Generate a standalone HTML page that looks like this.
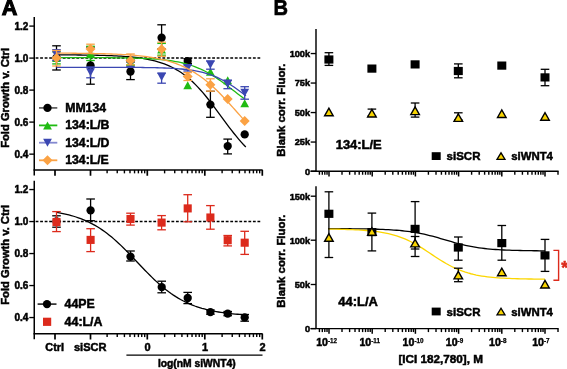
<!DOCTYPE html>
<html><head><meta charset="utf-8"><style>
html,body{margin:0;padding:0;background:#fff;width:567px;height:369px;overflow:hidden;}
svg{display:block;font-family:"Liberation Sans",sans-serif;}
svg{will-change:transform;}
</style></head><body>
<svg width="567" height="369" viewBox="0 0 567 369">
<rect width="567" height="369" fill="#fff"/>
<text x="1.75" y="14.5" font-size="21.6" font-family="Liberation Sans, sans-serif" font-weight="bold" fill="#000" stroke="#000" stroke-width="1.1" text-anchor="start" >A</text>
<text x="0" y="0" font-size="21.4" font-family="Liberation Sans, sans-serif" font-weight="bold" fill="#000" stroke="#000" stroke-width="0.6" text-anchor="start" transform="translate(273.6,14.6) scale(0.94,1)">B</text>
<line x1="34.25" y1="17" x2="34.25" y2="175.54999999999998" stroke="#000" stroke-width="1.5" />
<line x1="29.3" y1="26.1" x2="34.25" y2="26.1" stroke="#000" stroke-width="1.35" />
<text x="28.4" y="29.700000000000003" font-size="10" font-family="Liberation Sans, sans-serif" font-weight="bold" fill="#000" stroke="#000" stroke-width="0.5" text-anchor="end" >1.2</text>
<line x1="29.3" y1="58.1" x2="34.25" y2="58.1" stroke="#000" stroke-width="1.35" />
<text x="28.4" y="61.7" font-size="10" font-family="Liberation Sans, sans-serif" font-weight="bold" fill="#000" stroke="#000" stroke-width="0.5" text-anchor="end" >1.0</text>
<line x1="29.3" y1="90.1" x2="34.25" y2="90.1" stroke="#000" stroke-width="1.35" />
<text x="28.4" y="93.69999999999999" font-size="10" font-family="Liberation Sans, sans-serif" font-weight="bold" fill="#000" stroke="#000" stroke-width="0.5" text-anchor="end" >0.8</text>
<line x1="29.3" y1="122.1" x2="34.25" y2="122.1" stroke="#000" stroke-width="1.35" />
<text x="28.4" y="125.69999999999999" font-size="10" font-family="Liberation Sans, sans-serif" font-weight="bold" fill="#000" stroke="#000" stroke-width="0.5" text-anchor="end" >0.6</text>
<line x1="29.3" y1="154.15" x2="34.25" y2="154.15" stroke="#000" stroke-width="1.35" />
<text x="28.4" y="157.75" font-size="10" font-family="Liberation Sans, sans-serif" font-weight="bold" fill="#000" stroke="#000" stroke-width="0.5" text-anchor="end" >0.4</text>
<line x1="33.5" y1="169.95" x2="262.6" y2="169.95" stroke="#000" stroke-width="1.5" />
<line x1="55" y1="169.95" x2="55" y2="175.75" stroke="#000" stroke-width="1.7" />
<line x1="90.5" y1="169.95" x2="90.5" y2="175.75" stroke="#000" stroke-width="1.7" />
<line x1="147.3" y1="169.95" x2="147.3" y2="175.75" stroke="#000" stroke-width="1.7" />
<line x1="204.8" y1="169.95" x2="204.8" y2="175.75" stroke="#000" stroke-width="1.7" />
<line x1="262.3" y1="169.95" x2="262.3" y2="175.75" stroke="#000" stroke-width="1.7" />
<line x1="107.10922475067893" y1="169.95" x2="107.10922475067893" y2="173.35" stroke="#000" stroke-width="1.4" />
<line x1="117.2344721463806" y1="169.95" x2="117.2344721463806" y2="173.35" stroke="#000" stroke-width="1.4" />
<line x1="124.41844950135786" y1="169.95" x2="124.41844950135786" y2="173.35" stroke="#000" stroke-width="1.4" />
<line x1="129.9907752493211" y1="169.95" x2="129.9907752493211" y2="173.35" stroke="#000" stroke-width="1.4" />
<line x1="134.54369689705953" y1="169.95" x2="134.54369689705953" y2="173.35" stroke="#000" stroke-width="1.4" />
<line x1="138.39313730081977" y1="169.95" x2="138.39313730081977" y2="173.35" stroke="#000" stroke-width="1.4" />
<line x1="141.72767425203676" y1="169.95" x2="141.72767425203676" y2="173.35" stroke="#000" stroke-width="1.4" />
<line x1="144.66894429276118" y1="169.95" x2="144.66894429276118" y2="173.35" stroke="#000" stroke-width="1.4" />
<line x1="164.60922475067892" y1="169.95" x2="164.60922475067892" y2="173.35" stroke="#000" stroke-width="1.4" />
<line x1="174.7344721463806" y1="169.95" x2="174.7344721463806" y2="173.35" stroke="#000" stroke-width="1.4" />
<line x1="181.91844950135786" y1="169.95" x2="181.91844950135786" y2="173.35" stroke="#000" stroke-width="1.4" />
<line x1="187.4907752493211" y1="169.95" x2="187.4907752493211" y2="173.35" stroke="#000" stroke-width="1.4" />
<line x1="192.04369689705953" y1="169.95" x2="192.04369689705953" y2="173.35" stroke="#000" stroke-width="1.4" />
<line x1="195.89313730081977" y1="169.95" x2="195.89313730081977" y2="173.35" stroke="#000" stroke-width="1.4" />
<line x1="199.22767425203676" y1="169.95" x2="199.22767425203676" y2="173.35" stroke="#000" stroke-width="1.4" />
<line x1="202.16894429276118" y1="169.95" x2="202.16894429276118" y2="173.35" stroke="#000" stroke-width="1.4" />
<line x1="222.10922475067895" y1="169.95" x2="222.10922475067895" y2="173.35" stroke="#000" stroke-width="1.4" />
<line x1="232.2344721463806" y1="169.95" x2="232.2344721463806" y2="173.35" stroke="#000" stroke-width="1.4" />
<line x1="239.41844950135786" y1="169.95" x2="239.41844950135786" y2="173.35" stroke="#000" stroke-width="1.4" />
<line x1="244.99077524932108" y1="169.95" x2="244.99077524932108" y2="173.35" stroke="#000" stroke-width="1.4" />
<line x1="249.54369689705953" y1="169.95" x2="249.54369689705953" y2="173.35" stroke="#000" stroke-width="1.4" />
<line x1="253.39313730081977" y1="169.95" x2="253.39313730081977" y2="173.35" stroke="#000" stroke-width="1.4" />
<line x1="256.72767425203676" y1="169.95" x2="256.72767425203676" y2="173.35" stroke="#000" stroke-width="1.4" />
<line x1="259.6689442927612" y1="169.95" x2="259.6689442927612" y2="173.35" stroke="#000" stroke-width="1.4" />
<line x1="34.25" y1="58.1" x2="260.4" y2="58.1" stroke="#000" stroke-width="1.5" stroke-dasharray="2.8 1.727" stroke-dashoffset="-1.373"/>
<line x1="34.25" y1="180.8" x2="34.25" y2="339.3" stroke="#000" stroke-width="1.5" />
<line x1="29.3" y1="189.55" x2="34.25" y2="189.55" stroke="#000" stroke-width="1.35" />
<text x="28.4" y="193.15" font-size="10" font-family="Liberation Sans, sans-serif" font-weight="bold" fill="#000" stroke="#000" stroke-width="0.5" text-anchor="end" >1.2</text>
<line x1="29.3" y1="221.55" x2="34.25" y2="221.55" stroke="#000" stroke-width="1.35" />
<text x="28.4" y="225.15" font-size="10" font-family="Liberation Sans, sans-serif" font-weight="bold" fill="#000" stroke="#000" stroke-width="0.5" text-anchor="end" >1.0</text>
<line x1="29.3" y1="253.55" x2="34.25" y2="253.55" stroke="#000" stroke-width="1.35" />
<text x="28.4" y="257.15000000000003" font-size="10" font-family="Liberation Sans, sans-serif" font-weight="bold" fill="#000" stroke="#000" stroke-width="0.5" text-anchor="end" >0.8</text>
<line x1="29.3" y1="285.55" x2="34.25" y2="285.55" stroke="#000" stroke-width="1.35" />
<text x="28.4" y="289.15000000000003" font-size="10" font-family="Liberation Sans, sans-serif" font-weight="bold" fill="#000" stroke="#000" stroke-width="0.5" text-anchor="end" >0.6</text>
<line x1="29.3" y1="317.55" x2="34.25" y2="317.55" stroke="#000" stroke-width="1.35" />
<text x="28.4" y="321.15000000000003" font-size="10" font-family="Liberation Sans, sans-serif" font-weight="bold" fill="#000" stroke="#000" stroke-width="0.5" text-anchor="end" >0.4</text>
<line x1="33.5" y1="333.7" x2="262.6" y2="333.7" stroke="#000" stroke-width="1.5" />
<line x1="55" y1="333.7" x2="55" y2="339.5" stroke="#000" stroke-width="1.7" />
<line x1="90.5" y1="333.7" x2="90.5" y2="339.5" stroke="#000" stroke-width="1.7" />
<line x1="147.3" y1="333.7" x2="147.3" y2="339.5" stroke="#000" stroke-width="1.7" />
<line x1="204.8" y1="333.7" x2="204.8" y2="339.5" stroke="#000" stroke-width="1.7" />
<line x1="262.3" y1="333.7" x2="262.3" y2="339.5" stroke="#000" stroke-width="1.7" />
<line x1="107.10922475067893" y1="333.7" x2="107.10922475067893" y2="337.09999999999997" stroke="#000" stroke-width="1.4" />
<line x1="117.2344721463806" y1="333.7" x2="117.2344721463806" y2="337.09999999999997" stroke="#000" stroke-width="1.4" />
<line x1="124.41844950135786" y1="333.7" x2="124.41844950135786" y2="337.09999999999997" stroke="#000" stroke-width="1.4" />
<line x1="129.9907752493211" y1="333.7" x2="129.9907752493211" y2="337.09999999999997" stroke="#000" stroke-width="1.4" />
<line x1="134.54369689705953" y1="333.7" x2="134.54369689705953" y2="337.09999999999997" stroke="#000" stroke-width="1.4" />
<line x1="138.39313730081977" y1="333.7" x2="138.39313730081977" y2="337.09999999999997" stroke="#000" stroke-width="1.4" />
<line x1="141.72767425203676" y1="333.7" x2="141.72767425203676" y2="337.09999999999997" stroke="#000" stroke-width="1.4" />
<line x1="144.66894429276118" y1="333.7" x2="144.66894429276118" y2="337.09999999999997" stroke="#000" stroke-width="1.4" />
<line x1="164.60922475067892" y1="333.7" x2="164.60922475067892" y2="337.09999999999997" stroke="#000" stroke-width="1.4" />
<line x1="174.7344721463806" y1="333.7" x2="174.7344721463806" y2="337.09999999999997" stroke="#000" stroke-width="1.4" />
<line x1="181.91844950135786" y1="333.7" x2="181.91844950135786" y2="337.09999999999997" stroke="#000" stroke-width="1.4" />
<line x1="187.4907752493211" y1="333.7" x2="187.4907752493211" y2="337.09999999999997" stroke="#000" stroke-width="1.4" />
<line x1="192.04369689705953" y1="333.7" x2="192.04369689705953" y2="337.09999999999997" stroke="#000" stroke-width="1.4" />
<line x1="195.89313730081977" y1="333.7" x2="195.89313730081977" y2="337.09999999999997" stroke="#000" stroke-width="1.4" />
<line x1="199.22767425203676" y1="333.7" x2="199.22767425203676" y2="337.09999999999997" stroke="#000" stroke-width="1.4" />
<line x1="202.16894429276118" y1="333.7" x2="202.16894429276118" y2="337.09999999999997" stroke="#000" stroke-width="1.4" />
<line x1="222.10922475067895" y1="333.7" x2="222.10922475067895" y2="337.09999999999997" stroke="#000" stroke-width="1.4" />
<line x1="232.2344721463806" y1="333.7" x2="232.2344721463806" y2="337.09999999999997" stroke="#000" stroke-width="1.4" />
<line x1="239.41844950135786" y1="333.7" x2="239.41844950135786" y2="337.09999999999997" stroke="#000" stroke-width="1.4" />
<line x1="244.99077524932108" y1="333.7" x2="244.99077524932108" y2="337.09999999999997" stroke="#000" stroke-width="1.4" />
<line x1="249.54369689705953" y1="333.7" x2="249.54369689705953" y2="337.09999999999997" stroke="#000" stroke-width="1.4" />
<line x1="253.39313730081977" y1="333.7" x2="253.39313730081977" y2="337.09999999999997" stroke="#000" stroke-width="1.4" />
<line x1="256.72767425203676" y1="333.7" x2="256.72767425203676" y2="337.09999999999997" stroke="#000" stroke-width="1.4" />
<line x1="259.6689442927612" y1="333.7" x2="259.6689442927612" y2="337.09999999999997" stroke="#000" stroke-width="1.4" />
<line x1="34.25" y1="221.55" x2="260.4" y2="221.55" stroke="#000" stroke-width="1.5" stroke-dasharray="2.8 1.727" stroke-dashoffset="-1.373"/>
<text x="0" y="0" font-size="11.2" font-family="Liberation Sans, sans-serif" font-weight="bold" fill="#000" stroke="#000" stroke-width="0.5" text-anchor="middle" transform="translate(8.7,97.9) rotate(-90)">Fold Growth v. Ctrl</text>
<text x="0" y="0" font-size="11.2" font-family="Liberation Sans, sans-serif" font-weight="bold" fill="#000" stroke="#000" stroke-width="0.5" text-anchor="middle" transform="translate(8.7,254.8) rotate(-90)">Fold Growth v. Ctrl</text>
<path d="M56.50,54.85 L58.90,54.86 L61.29,54.87 L63.69,54.88 L66.08,54.90 L68.48,54.91 L70.88,54.93 L73.27,54.94 L75.67,54.96 L78.07,54.98 L80.46,55.01 L82.86,55.03 L85.25,55.06 L87.65,55.10 L90.05,55.13 L92.44,55.17 L94.84,55.22 L97.24,55.27 L99.63,55.33 L102.03,55.39 L104.42,55.46 L106.82,55.53 L109.22,55.62 L111.61,55.71 L114.01,55.82 L116.41,55.93 L118.80,56.06 L121.20,56.21 L123.59,56.37 L125.99,56.54 L128.39,56.74 L130.78,56.96 L133.18,57.20 L135.57,57.47 L137.97,57.76 L140.37,58.09 L142.76,58.45 L145.16,58.85 L147.56,59.29 L149.95,59.78 L152.35,60.31 L154.74,60.91 L157.14,61.56 L159.54,62.27 L161.93,63.06 L164.33,63.92 L166.73,64.86 L169.12,65.90 L171.52,67.02 L173.91,68.25 L176.31,69.58 L178.71,71.02 L181.10,72.58 L183.50,74.27 L185.89,76.08 L188.29,78.02 L190.69,80.09 L193.08,82.30 L195.48,84.64 L197.88,87.11 L200.27,89.72 L202.67,92.44 L205.06,95.28 L207.46,98.22 L209.86,101.26 L212.25,104.37 L214.65,107.55 L217.05,110.78 L219.44,114.04 L221.84,117.32 L224.23,120.58 L226.63,123.83 L229.03,127.03 L231.42,130.17 L233.82,133.23 L236.22,136.21 L238.61,139.09 L241.01,141.86 L243.40,144.50 L245.80,147.02" fill="none" stroke="#000" stroke-width="1.3"/>
<line x1="56.5" y1="45.8" x2="56.5" y2="70" stroke="#000" stroke-width="1.3" />
<line x1="52.2" y1="45.8" x2="60.8" y2="45.8" stroke="#000" stroke-width="1.3" />
<line x1="52.2" y1="70" x2="60.8" y2="70" stroke="#000" stroke-width="1.3" />
<line x1="90.5" y1="47" x2="90.5" y2="84.2" stroke="#000" stroke-width="1.3" />
<line x1="86.2" y1="47" x2="94.8" y2="47" stroke="#000" stroke-width="1.3" />
<line x1="86.2" y1="84.2" x2="94.8" y2="84.2" stroke="#000" stroke-width="1.3" />
<line x1="130.5" y1="62" x2="130.5" y2="79.6" stroke="#000" stroke-width="1.3" />
<line x1="126.2" y1="62" x2="134.8" y2="62" stroke="#000" stroke-width="1.3" />
<line x1="126.2" y1="79.6" x2="134.8" y2="79.6" stroke="#000" stroke-width="1.3" />
<line x1="161.6" y1="24.8" x2="161.6" y2="49" stroke="#000" stroke-width="1.3" />
<line x1="157.29999999999998" y1="24.8" x2="165.9" y2="24.8" stroke="#000" stroke-width="1.3" />
<line x1="157.29999999999998" y1="49" x2="165.9" y2="49" stroke="#000" stroke-width="1.3" />
<line x1="187.7" y1="58.6" x2="187.7" y2="63.6" stroke="#000" stroke-width="1.3" />
<line x1="183.39999999999998" y1="58.6" x2="192.0" y2="58.6" stroke="#000" stroke-width="1.3" />
<line x1="183.39999999999998" y1="63.6" x2="192.0" y2="63.6" stroke="#000" stroke-width="1.3" />
<line x1="210.4" y1="91.3" x2="210.4" y2="117.3" stroke="#000" stroke-width="1.3" />
<line x1="206.1" y1="91.3" x2="214.70000000000002" y2="91.3" stroke="#000" stroke-width="1.3" />
<line x1="206.1" y1="117.3" x2="214.70000000000002" y2="117.3" stroke="#000" stroke-width="1.3" />
<line x1="227.7" y1="139.1" x2="227.7" y2="153.9" stroke="#000" stroke-width="1.3" />
<line x1="223.39999999999998" y1="139.1" x2="232.0" y2="139.1" stroke="#000" stroke-width="1.3" />
<line x1="223.39999999999998" y1="153.9" x2="232.0" y2="153.9" stroke="#000" stroke-width="1.3" />
<circle cx="56.5" cy="57.8" r="4.15" fill="#000"/>
<circle cx="90.5" cy="65.5" r="4.15" fill="#000"/>
<circle cx="130.5" cy="71.5" r="4.15" fill="#000"/>
<circle cx="161.6" cy="37.7" r="4.15" fill="#000"/>
<circle cx="187.7" cy="61.1" r="4.15" fill="#000"/>
<circle cx="210.4" cy="104.6" r="4.15" fill="#000"/>
<circle cx="227.7" cy="146.1" r="4.15" fill="#000"/>
<circle cx="244.7" cy="134.4" r="4.15" fill="#000"/>
<path d="M56.50,57.54 L58.88,57.55 L61.26,57.55 L63.65,57.55 L66.03,57.55 L68.41,57.56 L70.79,57.56 L73.18,57.56 L75.56,57.57 L77.94,57.57 L80.32,57.57 L82.71,57.58 L85.09,57.59 L87.47,57.59 L89.85,57.60 L92.23,57.61 L94.62,57.62 L97.00,57.63 L99.38,57.64 L101.76,57.65 L104.15,57.67 L106.53,57.69 L108.91,57.71 L111.29,57.73 L113.67,57.75 L116.06,57.78 L118.44,57.81 L120.82,57.84 L123.20,57.88 L125.59,57.92 L127.97,57.96 L130.35,58.02 L132.73,58.07 L135.12,58.14 L137.50,58.21 L139.88,58.29 L142.26,58.38 L144.64,58.48 L147.03,58.60 L149.41,58.72 L151.79,58.86 L154.17,59.02 L156.56,59.20 L158.94,59.39 L161.32,59.61 L163.70,59.85 L166.08,60.12 L168.47,60.41 L170.85,60.75 L173.23,61.11 L175.61,61.52 L178.00,61.96 L180.38,62.46 L182.76,63.00 L185.14,63.60 L187.53,64.25 L189.91,64.97 L192.29,65.75 L194.67,66.60 L197.05,67.53 L199.44,68.53 L201.82,69.60 L204.20,70.76 L206.58,72.00 L208.97,73.32 L211.35,74.72 L213.73,76.19 L216.11,77.74 L218.49,79.35 L220.88,81.03 L223.26,82.76 L225.64,84.53 L228.02,86.34 L230.41,88.17 L232.79,90.02 L235.17,91.86 L237.55,93.69 L239.94,95.50 L242.32,97.27 L244.70,99.00" fill="none" stroke="#20bb12" stroke-width="1.3"/>
<line x1="56.5" y1="51.9" x2="56.5" y2="63.9" stroke="#20bb12" stroke-width="1.3" />
<line x1="52.2" y1="51.9" x2="60.8" y2="51.9" stroke="#20bb12" stroke-width="1.3" />
<line x1="52.2" y1="63.9" x2="60.8" y2="63.9" stroke="#20bb12" stroke-width="1.3" />
<line x1="90.5" y1="46.3" x2="90.5" y2="60.5" stroke="#20bb12" stroke-width="1.3" />
<line x1="86.2" y1="46.3" x2="94.8" y2="46.3" stroke="#20bb12" stroke-width="1.3" />
<line x1="86.2" y1="60.5" x2="94.8" y2="60.5" stroke="#20bb12" stroke-width="1.3" />
<line x1="130.5" y1="59" x2="130.5" y2="65" stroke="#20bb12" stroke-width="1.3" />
<line x1="126.2" y1="59" x2="134.8" y2="59" stroke="#20bb12" stroke-width="1.3" />
<line x1="126.2" y1="65" x2="134.8" y2="65" stroke="#20bb12" stroke-width="1.3" />
<line x1="161.6" y1="43.4" x2="161.6" y2="55.2" stroke="#20bb12" stroke-width="1.3" />
<line x1="157.29999999999998" y1="43.4" x2="165.9" y2="43.4" stroke="#20bb12" stroke-width="1.3" />
<line x1="157.29999999999998" y1="55.2" x2="165.9" y2="55.2" stroke="#20bb12" stroke-width="1.3" />
<polygon points="52.1,62.0 60.9,62.0 56.5,54.0" fill="#20bb12" />
<polygon points="86.1,57.3 94.9,57.3 90.5,49.3" fill="#20bb12" />
<polygon points="126.1,66.0 134.9,66.0 130.5,58.0" fill="#20bb12" />
<polygon points="157.2,53.6 166.0,53.6 161.6,45.6" fill="#20bb12" />
<polygon points="183.29999999999998,89.3 192.1,89.3 187.7,81.3" fill="#20bb12" />
<polygon points="206.0,75.7 214.8,75.7 210.4,67.7" fill="#20bb12" />
<polygon points="223.29999999999998,84.2 232.1,84.2 227.7,76.2" fill="#20bb12" />
<polygon points="240.29999999999998,107.2 249.1,107.2 244.7,99.2" fill="#20bb12" />
<path d="M56.50,67.28 L58.90,67.28 L61.30,67.28 L63.70,67.28 L66.09,67.28 L68.49,67.28 L70.89,67.28 L73.29,67.29 L75.69,67.29 L78.09,67.29 L80.49,67.29 L82.89,67.29 L85.28,67.29 L87.68,67.29 L90.08,67.29 L92.48,67.29 L94.88,67.30 L97.28,67.30 L99.68,67.30 L102.08,67.30 L104.47,67.31 L106.87,67.31 L109.27,67.32 L111.67,67.32 L114.07,67.33 L116.47,67.33 L118.87,67.34 L121.27,67.35 L123.66,67.36 L126.06,67.37 L128.46,67.38 L130.86,67.40 L133.26,67.41 L135.66,67.43 L138.06,67.45 L140.46,67.47 L142.85,67.50 L145.25,67.53 L147.65,67.57 L150.05,67.61 L152.45,67.65 L154.85,67.70 L157.25,67.76 L159.65,67.83 L162.04,67.90 L164.44,67.98 L166.84,68.08 L169.24,68.19 L171.64,68.32 L174.04,68.46 L176.44,68.62 L178.84,68.80 L181.23,69.00 L183.63,69.23 L186.03,69.49 L188.43,69.78 L190.83,70.11 L193.23,70.48 L195.63,70.90 L198.03,71.36 L200.42,71.88 L202.82,72.46 L205.22,73.10 L207.62,73.82 L210.02,74.60 L212.42,75.47 L214.82,76.41 L217.22,77.45 L219.61,78.57 L222.01,79.77 L224.41,81.07 L226.81,82.45 L229.21,83.92 L231.61,85.46 L234.01,87.07 L236.41,88.74 L238.80,90.45 L241.20,92.20 L243.60,93.97 L246.00,95.74" fill="none" stroke="#3b47b2" stroke-width="1.3"/>
<line x1="56.5" y1="49.7" x2="56.5" y2="60.5" stroke="#3b47b2" stroke-width="1.3" />
<line x1="52.2" y1="49.7" x2="60.8" y2="49.7" stroke="#3b47b2" stroke-width="1.3" />
<line x1="52.2" y1="60.5" x2="60.8" y2="60.5" stroke="#3b47b2" stroke-width="1.3" />
<line x1="90.5" y1="67" x2="90.5" y2="77.8" stroke="#3b47b2" stroke-width="1.3" />
<line x1="86.2" y1="67" x2="94.8" y2="67" stroke="#3b47b2" stroke-width="1.3" />
<line x1="86.2" y1="77.8" x2="94.8" y2="77.8" stroke="#3b47b2" stroke-width="1.3" />
<line x1="130.5" y1="60.5" x2="130.5" y2="66.5" stroke="#3b47b2" stroke-width="1.3" />
<line x1="126.2" y1="60.5" x2="134.8" y2="60.5" stroke="#3b47b2" stroke-width="1.3" />
<line x1="126.2" y1="66.5" x2="134.8" y2="66.5" stroke="#3b47b2" stroke-width="1.3" />
<line x1="161.6" y1="73" x2="161.6" y2="83.2" stroke="#3b47b2" stroke-width="1.3" />
<line x1="157.29999999999998" y1="73" x2="165.9" y2="73" stroke="#3b47b2" stroke-width="1.3" />
<line x1="157.29999999999998" y1="83.2" x2="165.9" y2="83.2" stroke="#3b47b2" stroke-width="1.3" />
<line x1="187.7" y1="65" x2="187.7" y2="71" stroke="#3b47b2" stroke-width="1.3" />
<line x1="183.39999999999998" y1="65" x2="192.0" y2="65" stroke="#3b47b2" stroke-width="1.3" />
<line x1="183.39999999999998" y1="71" x2="192.0" y2="71" stroke="#3b47b2" stroke-width="1.3" />
<line x1="210.4" y1="60.9" x2="210.4" y2="69.2" stroke="#3b47b2" stroke-width="1.3" />
<line x1="206.1" y1="60.9" x2="214.70000000000002" y2="60.9" stroke="#3b47b2" stroke-width="1.3" />
<line x1="206.1" y1="69.2" x2="214.70000000000002" y2="69.2" stroke="#3b47b2" stroke-width="1.3" />
<line x1="227.7" y1="80.1" x2="227.7" y2="88.7" stroke="#3b47b2" stroke-width="1.3" />
<line x1="223.39999999999998" y1="80.1" x2="232.0" y2="80.1" stroke="#3b47b2" stroke-width="1.3" />
<line x1="223.39999999999998" y1="88.7" x2="232.0" y2="88.7" stroke="#3b47b2" stroke-width="1.3" />
<line x1="244.7" y1="86.7" x2="244.7" y2="99.2" stroke="#3b47b2" stroke-width="1.3" />
<line x1="240.39999999999998" y1="86.7" x2="249.0" y2="86.7" stroke="#3b47b2" stroke-width="1.3" />
<line x1="240.39999999999998" y1="99.2" x2="249.0" y2="99.2" stroke="#3b47b2" stroke-width="1.3" />
<polygon points="52.1,51.0 60.9,51.0 56.5,59.0" fill="#3b47b2"/>
<polygon points="86.1,68.3 94.9,68.3 90.5,76.3" fill="#3b47b2"/>
<polygon points="126.1,59.5 134.9,59.5 130.5,67.5" fill="#3b47b2"/>
<polygon points="157.2,73.0 166.0,73.0 161.6,81.0" fill="#3b47b2"/>
<polygon points="183.29999999999998,64.0 192.1,64.0 187.7,72.0" fill="#3b47b2"/>
<polygon points="206.0,60.8 214.8,60.8 210.4,68.8" fill="#3b47b2"/>
<polygon points="223.29999999999998,80.1 232.1,80.1 227.7,88.1" fill="#3b47b2"/>
<polygon points="240.29999999999998,88.8 249.1,88.8 244.7,96.8" fill="#3b47b2"/>
<path d="M56.50,53.12 L58.88,53.14 L61.26,53.15 L63.65,53.16 L66.03,53.18 L68.41,53.19 L70.79,53.21 L73.18,53.23 L75.56,53.26 L77.94,53.28 L80.32,53.31 L82.71,53.33 L85.09,53.37 L87.47,53.40 L89.85,53.44 L92.23,53.48 L94.62,53.53 L97.00,53.57 L99.38,53.63 L101.76,53.69 L104.15,53.75 L106.53,53.82 L108.91,53.90 L111.29,53.99 L113.67,54.08 L116.06,54.18 L118.44,54.29 L120.82,54.41 L123.20,54.54 L125.59,54.68 L127.97,54.84 L130.35,55.01 L132.73,55.20 L135.12,55.40 L137.50,55.63 L139.88,55.87 L142.26,56.13 L144.64,56.42 L147.03,56.74 L149.41,57.08 L151.79,57.45 L154.17,57.85 L156.56,58.29 L158.94,58.77 L161.32,59.29 L163.70,59.85 L166.08,60.45 L168.47,61.11 L170.85,61.82 L173.23,62.59 L175.61,63.42 L178.00,64.31 L180.38,65.27 L182.76,66.30 L185.14,67.41 L187.53,68.59 L189.91,69.86 L192.29,71.21 L194.67,72.65 L197.05,74.18 L199.44,75.80 L201.82,77.51 L204.20,79.32 L206.58,81.22 L208.97,83.21 L211.35,85.30 L213.73,87.47 L216.11,89.72 L218.49,92.06 L220.88,94.47 L223.26,96.94 L225.64,99.48 L228.02,102.06 L230.41,104.69 L232.79,107.34 L235.17,110.02 L237.55,112.71 L239.94,115.40 L242.32,118.07 L244.70,120.73" fill="none" stroke="#fba244" stroke-width="1.3"/>
<line x1="56.5" y1="50.5" x2="56.5" y2="66" stroke="#fba244" stroke-width="1.3" />
<line x1="52.2" y1="50.5" x2="60.8" y2="50.5" stroke="#fba244" stroke-width="1.3" />
<line x1="52.2" y1="66" x2="60.8" y2="66" stroke="#fba244" stroke-width="1.3" />
<line x1="90.5" y1="44.2" x2="90.5" y2="53.5" stroke="#fba244" stroke-width="1.3" />
<line x1="86.2" y1="44.2" x2="94.8" y2="44.2" stroke="#fba244" stroke-width="1.3" />
<line x1="86.2" y1="53.5" x2="94.8" y2="53.5" stroke="#fba244" stroke-width="1.3" />
<line x1="130.5" y1="54" x2="130.5" y2="64.8" stroke="#fba244" stroke-width="1.3" />
<line x1="126.2" y1="54" x2="134.8" y2="54" stroke="#fba244" stroke-width="1.3" />
<line x1="126.2" y1="64.8" x2="134.8" y2="64.8" stroke="#fba244" stroke-width="1.3" />
<line x1="161.6" y1="42.2" x2="161.6" y2="56.3" stroke="#fba244" stroke-width="1.3" />
<line x1="157.29999999999998" y1="42.2" x2="165.9" y2="42.2" stroke="#fba244" stroke-width="1.3" />
<line x1="157.29999999999998" y1="56.3" x2="165.9" y2="56.3" stroke="#fba244" stroke-width="1.3" />
<line x1="187.7" y1="72.6" x2="187.7" y2="80.5" stroke="#fba244" stroke-width="1.3" />
<line x1="183.39999999999998" y1="72.6" x2="192.0" y2="72.6" stroke="#fba244" stroke-width="1.3" />
<line x1="183.39999999999998" y1="80.5" x2="192.0" y2="80.5" stroke="#fba244" stroke-width="1.3" />
<line x1="210.4" y1="78.8" x2="210.4" y2="91.2" stroke="#fba244" stroke-width="1.3" />
<line x1="206.1" y1="78.8" x2="214.70000000000002" y2="78.8" stroke="#fba244" stroke-width="1.3" />
<line x1="206.1" y1="91.2" x2="214.70000000000002" y2="91.2" stroke="#fba244" stroke-width="1.3" />
<polygon points="56.5,53 61.5,58 56.5,63 51.5,58" fill="#fba244"/>
<polygon points="90.5,44 95.5,49 90.5,54 85.5,49" fill="#fba244"/>
<polygon points="130.5,55.6 135.5,60.6 130.5,65.6 125.5,60.6" fill="#fba244"/>
<polygon points="161.6,44.2 166.6,49.2 161.6,54.2 156.6,49.2" fill="#fba244"/>
<polygon points="187.7,71.4 192.7,76.4 187.7,81.4 182.7,76.4" fill="#fba244"/>
<polygon points="210.4,79.7 215.4,84.7 210.4,89.7 205.4,84.7" fill="#fba244"/>
<polygon points="227.7,93.9 232.7,98.9 227.7,103.9 222.7,98.9" fill="#fba244"/>
<polygon points="244.7,116.1 249.7,121.1 244.7,126.1 239.7,121.1" fill="#fba244"/>
<line x1="39" y1="107.9" x2="57.3" y2="107.9" stroke="#666" stroke-width="1.8" />
<circle cx="47.5" cy="107.9" r="4.15" fill="#000"/>
<text x="65.2" y="111.6" font-size="12.25" font-family="Liberation Sans, sans-serif" font-weight="bold" fill="#000" stroke="#000" stroke-width="0.5" text-anchor="start" >MM134</text>
<line x1="39" y1="125.4" x2="57.3" y2="125.4" stroke="#20bb12" stroke-width="1.8" />
<polygon points="43.1,129.4 51.9,129.4 47.5,121.4" fill="#20bb12" />
<text x="65.2" y="128.9" font-size="12.25" font-family="Liberation Sans, sans-serif" font-weight="bold" fill="#000" stroke="#000" stroke-width="0.5" text-anchor="start" >134:L/B</text>
<line x1="39" y1="142.7" x2="57.3" y2="142.7" stroke="#8489d0" stroke-width="1.8" />
<polygon points="43.1,138.7 51.9,138.7 47.5,146.7" fill="#3b47b2"/>
<text x="65.2" y="146.5" font-size="12.25" font-family="Liberation Sans, sans-serif" font-weight="bold" fill="#000" stroke="#000" stroke-width="0.5" text-anchor="start" >134:L/D</text>
<line x1="39" y1="160.3" x2="57.3" y2="160.3" stroke="#fba244" stroke-width="1.8" />
<polygon points="47.5,155.3 52.5,160.3 47.5,165.3 42.5,160.3" fill="#fba244"/>
<text x="65.2" y="163.9" font-size="12.25" font-family="Liberation Sans, sans-serif" font-weight="bold" fill="#000" stroke="#000" stroke-width="0.5" text-anchor="start" >134:L/E</text>
<path d="M57.00,212.42 L59.38,212.85 L61.75,213.30 L64.13,213.80 L66.50,214.34 L68.88,214.93 L71.26,215.57 L73.63,216.25 L76.01,217.00 L78.38,217.80 L80.76,218.67 L83.14,219.61 L85.51,220.61 L87.89,221.69 L90.26,222.85 L92.64,224.09 L95.02,225.41 L97.39,226.81 L99.77,228.30 L102.14,229.88 L104.52,231.56 L106.89,233.32 L109.27,235.17 L111.65,237.10 L114.02,239.12 L116.40,241.22 L118.77,243.40 L121.15,245.65 L123.53,247.97 L125.90,250.34 L128.28,252.75 L130.65,255.21 L133.03,257.70 L135.41,260.20 L137.78,262.71 L140.16,265.23 L142.53,267.72 L144.91,270.20 L147.29,272.64 L149.66,275.03 L152.04,277.38 L154.41,279.66 L156.79,281.88 L159.17,284.02 L161.54,286.08 L163.92,288.07 L166.29,289.96 L168.67,291.77 L171.05,293.49 L173.42,295.11 L175.80,296.65 L178.17,298.11 L180.55,299.47 L182.93,300.75 L185.30,301.95 L187.68,303.07 L190.05,304.11 L192.43,305.08 L194.81,305.99 L197.18,306.82 L199.56,307.60 L201.93,308.32 L204.31,308.98 L206.68,309.59 L209.06,310.16 L211.44,310.68 L213.81,311.16 L216.19,311.60 L218.56,312.00 L220.94,312.37 L223.32,312.72 L225.69,313.03 L228.07,313.32 L230.44,313.58 L232.82,313.82 L235.20,314.04 L237.57,314.24 L239.95,314.42 L242.32,314.59 L244.70,314.75" fill="none" stroke="#000" stroke-width="1.3"/>
<line x1="56.5" y1="215.8" x2="56.5" y2="227.2" stroke="#000" stroke-width="1.3" />
<line x1="52.2" y1="215.8" x2="60.8" y2="215.8" stroke="#000" stroke-width="1.3" />
<line x1="52.2" y1="227.2" x2="60.8" y2="227.2" stroke="#000" stroke-width="1.3" />
<line x1="90.6" y1="199" x2="90.6" y2="220.7" stroke="#000" stroke-width="1.3" />
<line x1="86.3" y1="199" x2="94.89999999999999" y2="199" stroke="#000" stroke-width="1.3" />
<line x1="86.3" y1="220.7" x2="94.89999999999999" y2="220.7" stroke="#000" stroke-width="1.3" />
<line x1="130.5" y1="251" x2="130.5" y2="261" stroke="#000" stroke-width="1.3" />
<line x1="126.2" y1="251" x2="134.8" y2="251" stroke="#000" stroke-width="1.3" />
<line x1="126.2" y1="261" x2="134.8" y2="261" stroke="#000" stroke-width="1.3" />
<line x1="161.7" y1="281.2" x2="161.7" y2="292.8" stroke="#000" stroke-width="1.3" />
<line x1="157.39999999999998" y1="281.2" x2="166.0" y2="281.2" stroke="#000" stroke-width="1.3" />
<line x1="157.39999999999998" y1="292.8" x2="166.0" y2="292.8" stroke="#000" stroke-width="1.3" />
<line x1="187.7" y1="292.4" x2="187.7" y2="303.6" stroke="#000" stroke-width="1.3" />
<line x1="183.39999999999998" y1="292.4" x2="192.0" y2="292.4" stroke="#000" stroke-width="1.3" />
<line x1="183.39999999999998" y1="303.6" x2="192.0" y2="303.6" stroke="#000" stroke-width="1.3" />
<line x1="210.4" y1="310" x2="210.4" y2="314.2" stroke="#000" stroke-width="1.3" />
<line x1="206.1" y1="310" x2="214.70000000000002" y2="310" stroke="#000" stroke-width="1.3" />
<line x1="206.1" y1="314.2" x2="214.70000000000002" y2="314.2" stroke="#000" stroke-width="1.3" />
<line x1="227.7" y1="311.5" x2="227.7" y2="315.7" stroke="#000" stroke-width="1.3" />
<line x1="223.39999999999998" y1="311.5" x2="232.0" y2="311.5" stroke="#000" stroke-width="1.3" />
<line x1="223.39999999999998" y1="315.7" x2="232.0" y2="315.7" stroke="#000" stroke-width="1.3" />
<line x1="244.7" y1="314.5" x2="244.7" y2="321.2" stroke="#000" stroke-width="1.3" />
<line x1="240.39999999999998" y1="314.5" x2="249.0" y2="314.5" stroke="#000" stroke-width="1.3" />
<line x1="240.39999999999998" y1="321.2" x2="249.0" y2="321.2" stroke="#000" stroke-width="1.3" />
<circle cx="56.5" cy="221.5" r="4.15" fill="#000"/>
<circle cx="90.6" cy="210.4" r="4.15" fill="#000"/>
<circle cx="130.5" cy="256.6" r="4.15" fill="#000"/>
<circle cx="161.7" cy="287.1" r="4.15" fill="#000"/>
<circle cx="187.7" cy="298" r="4.15" fill="#000"/>
<circle cx="210.4" cy="312.1" r="4.15" fill="#000"/>
<circle cx="227.7" cy="313.6" r="4.15" fill="#000"/>
<circle cx="244.7" cy="317.4" r="4.15" fill="#000"/>
<line x1="56.5" y1="211.6" x2="56.5" y2="231.6" stroke="#dc2a1c" stroke-width="1.3" />
<line x1="52.2" y1="211.6" x2="60.8" y2="211.6" stroke="#dc2a1c" stroke-width="1.3" />
<line x1="52.2" y1="231.6" x2="60.8" y2="231.6" stroke="#dc2a1c" stroke-width="1.3" />
<line x1="90.6" y1="228.7" x2="90.6" y2="251.6" stroke="#dc2a1c" stroke-width="1.3" />
<line x1="86.3" y1="228.7" x2="94.89999999999999" y2="228.7" stroke="#dc2a1c" stroke-width="1.3" />
<line x1="86.3" y1="251.6" x2="94.89999999999999" y2="251.6" stroke="#dc2a1c" stroke-width="1.3" />
<line x1="130.5" y1="213.2" x2="130.5" y2="225.1" stroke="#dc2a1c" stroke-width="1.3" />
<line x1="126.2" y1="213.2" x2="134.8" y2="213.2" stroke="#dc2a1c" stroke-width="1.3" />
<line x1="126.2" y1="225.1" x2="134.8" y2="225.1" stroke="#dc2a1c" stroke-width="1.3" />
<line x1="161.6" y1="215.6" x2="161.6" y2="229.8" stroke="#dc2a1c" stroke-width="1.3" />
<line x1="157.29999999999998" y1="215.6" x2="165.9" y2="215.6" stroke="#dc2a1c" stroke-width="1.3" />
<line x1="157.29999999999998" y1="229.8" x2="165.9" y2="229.8" stroke="#dc2a1c" stroke-width="1.3" />
<line x1="187.7" y1="194.7" x2="187.7" y2="221.8" stroke="#dc2a1c" stroke-width="1.3" />
<line x1="183.39999999999998" y1="194.7" x2="192.0" y2="194.7" stroke="#dc2a1c" stroke-width="1.3" />
<line x1="183.39999999999998" y1="221.8" x2="192.0" y2="221.8" stroke="#dc2a1c" stroke-width="1.3" />
<line x1="210.4" y1="205.6" x2="210.4" y2="229.2" stroke="#dc2a1c" stroke-width="1.3" />
<line x1="206.1" y1="205.6" x2="214.70000000000002" y2="205.6" stroke="#dc2a1c" stroke-width="1.3" />
<line x1="206.1" y1="229.2" x2="214.70000000000002" y2="229.2" stroke="#dc2a1c" stroke-width="1.3" />
<line x1="227.7" y1="235.5" x2="227.7" y2="245.9" stroke="#dc2a1c" stroke-width="1.3" />
<line x1="223.39999999999998" y1="235.5" x2="232.0" y2="235.5" stroke="#dc2a1c" stroke-width="1.3" />
<line x1="223.39999999999998" y1="245.9" x2="232.0" y2="245.9" stroke="#dc2a1c" stroke-width="1.3" />
<line x1="244.7" y1="231.3" x2="244.7" y2="254.4" stroke="#dc2a1c" stroke-width="1.3" />
<line x1="240.39999999999998" y1="231.3" x2="249.0" y2="231.3" stroke="#dc2a1c" stroke-width="1.3" />
<line x1="240.39999999999998" y1="254.4" x2="249.0" y2="254.4" stroke="#dc2a1c" stroke-width="1.3" />
<rect x="52.45" y="217.95" width="8.1" height="8.1" fill="#dc2a1c"/>
<rect x="86.55" y="235.85" width="8.1" height="8.1" fill="#dc2a1c"/>
<rect x="126.45" y="214.95" width="8.1" height="8.1" fill="#dc2a1c"/>
<rect x="157.54999999999998" y="218.54999999999998" width="8.1" height="8.1" fill="#dc2a1c"/>
<rect x="183.64999999999998" y="204.35" width="8.1" height="8.1" fill="#dc2a1c"/>
<rect x="206.35" y="213.45" width="8.1" height="8.1" fill="#dc2a1c"/>
<rect x="223.64999999999998" y="236.14999999999998" width="8.1" height="8.1" fill="#dc2a1c"/>
<rect x="240.64999999999998" y="238.64999999999998" width="8.1" height="8.1" fill="#dc2a1c"/>
<line x1="37.6" y1="304.1" x2="56.5" y2="304.1" stroke="#222" stroke-width="1.6" />
<circle cx="47" cy="304.1" r="4.15" fill="#000"/>
<text x="64.6" y="308.1" font-size="12.3" font-family="Liberation Sans, sans-serif" font-weight="bold" fill="#000" stroke="#000" stroke-width="0.5" text-anchor="start" >44PE</text>
<rect x="43.0" y="317.7" width="8.2" height="8.2" fill="#dc2a1c"/>
<text x="64.6" y="325.5" font-size="12.4" font-family="Liberation Sans, sans-serif" font-weight="bold" fill="#000" stroke="#000" stroke-width="0.5" text-anchor="start" >44:L/A</text>
<text x="54.7" y="351" font-size="10.9" font-family="Liberation Sans, sans-serif" font-weight="bold" fill="#000" stroke="#000" stroke-width="0.5" text-anchor="middle" >Ctrl</text>
<text x="90.3" y="351" font-size="11.1" font-family="Liberation Sans, sans-serif" font-weight="bold" fill="#000" stroke="#000" stroke-width="0.5" text-anchor="middle" >siSCR</text>
<text x="147.60000000000002" y="350.6" font-size="11" font-family="Liberation Sans, sans-serif" font-weight="bold" fill="#000" stroke="#000" stroke-width="0.5" text-anchor="middle" >0</text>
<text x="205.10000000000002" y="350.6" font-size="11" font-family="Liberation Sans, sans-serif" font-weight="bold" fill="#000" stroke="#000" stroke-width="0.5" text-anchor="middle" >1</text>
<text x="262.6" y="350.6" font-size="11" font-family="Liberation Sans, sans-serif" font-weight="bold" fill="#000" stroke="#000" stroke-width="0.5" text-anchor="middle" >2</text>
<line x1="126.4" y1="355.1" x2="262.5" y2="355.1" stroke="#000" stroke-width="1.3" />
<text x="196.8" y="366.7" font-size="10.3" font-family="Liberation Sans, sans-serif" font-weight="bold" fill="#000" stroke="#000" stroke-width="0.5" text-anchor="middle" >log(nM siWNT4)</text>
<line x1="316.0" y1="29" x2="316.0" y2="171.25" stroke="#000" stroke-width="1.45" />
<line x1="310.7" y1="53.55" x2="316.0" y2="53.55" stroke="#000" stroke-width="1.35" />
<text x="310.1" y="56.949999999999996" font-size="9.2" font-family="Liberation Sans, sans-serif" font-weight="bold" fill="#000" stroke="#000" stroke-width="0.5" text-anchor="end" >100k</text>
<line x1="310.7" y1="83.05" x2="316.0" y2="83.05" stroke="#000" stroke-width="1.35" />
<text x="310.1" y="86.45" font-size="9.2" font-family="Liberation Sans, sans-serif" font-weight="bold" fill="#000" stroke="#000" stroke-width="0.5" text-anchor="end" >75k</text>
<line x1="310.7" y1="112.55" x2="316.0" y2="112.55" stroke="#000" stroke-width="1.35" />
<text x="310.1" y="115.95" font-size="9.2" font-family="Liberation Sans, sans-serif" font-weight="bold" fill="#000" stroke="#000" stroke-width="0.5" text-anchor="end" >50k</text>
<line x1="310.7" y1="142.05" x2="316.0" y2="142.05" stroke="#000" stroke-width="1.35" />
<text x="310.1" y="145.45000000000002" font-size="9.2" font-family="Liberation Sans, sans-serif" font-weight="bold" fill="#000" stroke="#000" stroke-width="0.5" text-anchor="end" >25k</text>
<line x1="310.7" y1="171.25" x2="316.0" y2="171.25" stroke="#000" stroke-width="1.35" />
<text x="310.1" y="174.65" font-size="9.2" font-family="Liberation Sans, sans-serif" font-weight="bold" fill="#000" stroke="#000" stroke-width="0.5" text-anchor="end" >0</text>
<line x1="310.5" y1="171.25" x2="558.6" y2="171.25" stroke="#000" stroke-width="1.45" />
<line x1="329.0" y1="171.25" x2="329.0" y2="176.45" stroke="#000" stroke-width="1.5" />
<line x1="372.2" y1="171.25" x2="372.2" y2="176.45" stroke="#000" stroke-width="1.5" />
<line x1="415.4" y1="171.25" x2="415.4" y2="176.45" stroke="#000" stroke-width="1.5" />
<line x1="458.6" y1="171.25" x2="458.6" y2="176.45" stroke="#000" stroke-width="1.5" />
<line x1="501.8" y1="171.25" x2="501.8" y2="176.45" stroke="#000" stroke-width="1.5" />
<line x1="545.0" y1="171.25" x2="545.0" y2="176.45" stroke="#000" stroke-width="1.5" />
<line x1="319.41613401657344" y1="171.25" x2="319.41613401657344" y2="174.75" stroke="#000" stroke-width="1.4" />
<line x1="322.3082353286159" y1="171.25" x2="322.3082353286159" y2="174.75" stroke="#000" stroke-width="1.4" />
<line x1="324.813487438052" y1="171.25" x2="324.813487438052" y2="174.75" stroke="#000" stroke-width="1.4" />
<line x1="327.02327640777884" y1="171.25" x2="327.02327640777884" y2="174.75" stroke="#000" stroke-width="1.4" />
<line x1="342.004495812684" y1="171.25" x2="342.004495812684" y2="174.75" stroke="#000" stroke-width="1.4" />
<line x1="349.6116382038894" y1="171.25" x2="349.6116382038894" y2="174.75" stroke="#000" stroke-width="1.4" />
<line x1="355.00899162536797" y1="171.25" x2="355.00899162536797" y2="174.75" stroke="#000" stroke-width="1.4" />
<line x1="359.19550418731603" y1="171.25" x2="359.19550418731603" y2="174.75" stroke="#000" stroke-width="1.4" />
<line x1="362.6161340165734" y1="171.25" x2="362.6161340165734" y2="174.75" stroke="#000" stroke-width="1.4" />
<line x1="365.5082353286159" y1="171.25" x2="365.5082353286159" y2="174.75" stroke="#000" stroke-width="1.4" />
<line x1="368.013487438052" y1="171.25" x2="368.013487438052" y2="174.75" stroke="#000" stroke-width="1.4" />
<line x1="370.2232764077788" y1="171.25" x2="370.2232764077788" y2="174.75" stroke="#000" stroke-width="1.4" />
<line x1="385.204495812684" y1="171.25" x2="385.204495812684" y2="174.75" stroke="#000" stroke-width="1.4" />
<line x1="392.8116382038894" y1="171.25" x2="392.8116382038894" y2="174.75" stroke="#000" stroke-width="1.4" />
<line x1="398.20899162536796" y1="171.25" x2="398.20899162536796" y2="174.75" stroke="#000" stroke-width="1.4" />
<line x1="402.395504187316" y1="171.25" x2="402.395504187316" y2="174.75" stroke="#000" stroke-width="1.4" />
<line x1="405.8161340165734" y1="171.25" x2="405.8161340165734" y2="174.75" stroke="#000" stroke-width="1.4" />
<line x1="408.7082353286159" y1="171.25" x2="408.7082353286159" y2="174.75" stroke="#000" stroke-width="1.4" />
<line x1="411.21348743805197" y1="171.25" x2="411.21348743805197" y2="174.75" stroke="#000" stroke-width="1.4" />
<line x1="413.42327640777887" y1="171.25" x2="413.42327640777887" y2="174.75" stroke="#000" stroke-width="1.4" />
<line x1="428.404495812684" y1="171.25" x2="428.404495812684" y2="174.75" stroke="#000" stroke-width="1.4" />
<line x1="436.01163820388945" y1="171.25" x2="436.01163820388945" y2="174.75" stroke="#000" stroke-width="1.4" />
<line x1="441.408991625368" y1="171.25" x2="441.408991625368" y2="174.75" stroke="#000" stroke-width="1.4" />
<line x1="445.595504187316" y1="171.25" x2="445.595504187316" y2="174.75" stroke="#000" stroke-width="1.4" />
<line x1="449.0161340165734" y1="171.25" x2="449.0161340165734" y2="174.75" stroke="#000" stroke-width="1.4" />
<line x1="451.9082353286159" y1="171.25" x2="451.9082353286159" y2="174.75" stroke="#000" stroke-width="1.4" />
<line x1="454.41348743805196" y1="171.25" x2="454.41348743805196" y2="174.75" stroke="#000" stroke-width="1.4" />
<line x1="456.62327640777886" y1="171.25" x2="456.62327640777886" y2="174.75" stroke="#000" stroke-width="1.4" />
<line x1="471.60449581268404" y1="171.25" x2="471.60449581268404" y2="174.75" stroke="#000" stroke-width="1.4" />
<line x1="479.21163820388944" y1="171.25" x2="479.21163820388944" y2="174.75" stroke="#000" stroke-width="1.4" />
<line x1="484.608991625368" y1="171.25" x2="484.608991625368" y2="174.75" stroke="#000" stroke-width="1.4" />
<line x1="488.79550418731606" y1="171.25" x2="488.79550418731606" y2="174.75" stroke="#000" stroke-width="1.4" />
<line x1="492.2161340165734" y1="171.25" x2="492.2161340165734" y2="174.75" stroke="#000" stroke-width="1.4" />
<line x1="495.10823532861593" y1="171.25" x2="495.10823532861593" y2="174.75" stroke="#000" stroke-width="1.4" />
<line x1="497.61348743805195" y1="171.25" x2="497.61348743805195" y2="174.75" stroke="#000" stroke-width="1.4" />
<line x1="499.82327640777885" y1="171.25" x2="499.82327640777885" y2="174.75" stroke="#000" stroke-width="1.4" />
<line x1="514.804495812684" y1="171.25" x2="514.804495812684" y2="174.75" stroke="#000" stroke-width="1.4" />
<line x1="522.4116382038894" y1="171.25" x2="522.4116382038894" y2="174.75" stroke="#000" stroke-width="1.4" />
<line x1="527.808991625368" y1="171.25" x2="527.808991625368" y2="174.75" stroke="#000" stroke-width="1.4" />
<line x1="531.995504187316" y1="171.25" x2="531.995504187316" y2="174.75" stroke="#000" stroke-width="1.4" />
<line x1="535.4161340165734" y1="171.25" x2="535.4161340165734" y2="174.75" stroke="#000" stroke-width="1.4" />
<line x1="538.3082353286159" y1="171.25" x2="538.3082353286159" y2="174.75" stroke="#000" stroke-width="1.4" />
<line x1="540.813487438052" y1="171.25" x2="540.813487438052" y2="174.75" stroke="#000" stroke-width="1.4" />
<line x1="543.0232764077789" y1="171.25" x2="543.0232764077789" y2="174.75" stroke="#000" stroke-width="1.4" />
<line x1="558.004495812684" y1="171.25" x2="558.004495812684" y2="174.75" stroke="#000" stroke-width="1.4" />
<text x="335.7" y="149.3" font-size="12.95" font-family="Liberation Sans, sans-serif" font-weight="bold" fill="#000" stroke="#000" stroke-width="0.5" text-anchor="start" >134:L/E</text>
<rect x="431.7" y="152.20000000000002" width="9.0" height="7.8" fill="#000"/>
<text x="446.6" y="160.3" font-size="11.5" font-family="Liberation Sans, sans-serif" font-weight="bold" fill="#000" stroke="#000" stroke-width="0.5" text-anchor="start" >siSCR</text>
<polygon points="497.0,159.40000000000003 505.0,159.40000000000003 501,152.8" fill="#f8d400" stroke="#000" stroke-width="1.3" stroke-linejoin="miter"/>
<text x="511.2" y="160.3" font-size="11.4" font-family="Liberation Sans, sans-serif" font-weight="bold" fill="#000" stroke="#000" stroke-width="0.5" text-anchor="start" >siWNT4</text>
<line x1="316.0" y1="186.2" x2="316.0" y2="328.6" stroke="#000" stroke-width="1.45" />
<line x1="310.7" y1="196.2" x2="316.0" y2="196.2" stroke="#000" stroke-width="1.35" />
<text x="310.1" y="199.6" font-size="9.2" font-family="Liberation Sans, sans-serif" font-weight="bold" fill="#000" stroke="#000" stroke-width="0.5" text-anchor="end" >150k</text>
<line x1="310.7" y1="240.2" x2="316.0" y2="240.2" stroke="#000" stroke-width="1.35" />
<text x="310.1" y="243.6" font-size="9.2" font-family="Liberation Sans, sans-serif" font-weight="bold" fill="#000" stroke="#000" stroke-width="0.5" text-anchor="end" >100k</text>
<line x1="310.7" y1="284.5" x2="316.0" y2="284.5" stroke="#000" stroke-width="1.35" />
<text x="310.1" y="287.9" font-size="9.2" font-family="Liberation Sans, sans-serif" font-weight="bold" fill="#000" stroke="#000" stroke-width="0.5" text-anchor="end" >50k</text>
<line x1="310.7" y1="328.6" x2="316.0" y2="328.6" stroke="#000" stroke-width="1.35" />
<text x="310.1" y="332.0" font-size="9.2" font-family="Liberation Sans, sans-serif" font-weight="bold" fill="#000" stroke="#000" stroke-width="0.5" text-anchor="end" >0</text>
<line x1="310.5" y1="328.6" x2="558.6" y2="328.6" stroke="#000" stroke-width="1.45" />
<line x1="329.0" y1="328.6" x2="329.0" y2="333.8" stroke="#000" stroke-width="1.5" />
<line x1="372.2" y1="328.6" x2="372.2" y2="333.8" stroke="#000" stroke-width="1.5" />
<line x1="415.4" y1="328.6" x2="415.4" y2="333.8" stroke="#000" stroke-width="1.5" />
<line x1="458.6" y1="328.6" x2="458.6" y2="333.8" stroke="#000" stroke-width="1.5" />
<line x1="501.8" y1="328.6" x2="501.8" y2="333.8" stroke="#000" stroke-width="1.5" />
<line x1="545.0" y1="328.6" x2="545.0" y2="333.8" stroke="#000" stroke-width="1.5" />
<line x1="319.41613401657344" y1="328.6" x2="319.41613401657344" y2="332.1" stroke="#000" stroke-width="1.4" />
<line x1="322.3082353286159" y1="328.6" x2="322.3082353286159" y2="332.1" stroke="#000" stroke-width="1.4" />
<line x1="324.813487438052" y1="328.6" x2="324.813487438052" y2="332.1" stroke="#000" stroke-width="1.4" />
<line x1="327.02327640777884" y1="328.6" x2="327.02327640777884" y2="332.1" stroke="#000" stroke-width="1.4" />
<line x1="342.004495812684" y1="328.6" x2="342.004495812684" y2="332.1" stroke="#000" stroke-width="1.4" />
<line x1="349.6116382038894" y1="328.6" x2="349.6116382038894" y2="332.1" stroke="#000" stroke-width="1.4" />
<line x1="355.00899162536797" y1="328.6" x2="355.00899162536797" y2="332.1" stroke="#000" stroke-width="1.4" />
<line x1="359.19550418731603" y1="328.6" x2="359.19550418731603" y2="332.1" stroke="#000" stroke-width="1.4" />
<line x1="362.6161340165734" y1="328.6" x2="362.6161340165734" y2="332.1" stroke="#000" stroke-width="1.4" />
<line x1="365.5082353286159" y1="328.6" x2="365.5082353286159" y2="332.1" stroke="#000" stroke-width="1.4" />
<line x1="368.013487438052" y1="328.6" x2="368.013487438052" y2="332.1" stroke="#000" stroke-width="1.4" />
<line x1="370.2232764077788" y1="328.6" x2="370.2232764077788" y2="332.1" stroke="#000" stroke-width="1.4" />
<line x1="385.204495812684" y1="328.6" x2="385.204495812684" y2="332.1" stroke="#000" stroke-width="1.4" />
<line x1="392.8116382038894" y1="328.6" x2="392.8116382038894" y2="332.1" stroke="#000" stroke-width="1.4" />
<line x1="398.20899162536796" y1="328.6" x2="398.20899162536796" y2="332.1" stroke="#000" stroke-width="1.4" />
<line x1="402.395504187316" y1="328.6" x2="402.395504187316" y2="332.1" stroke="#000" stroke-width="1.4" />
<line x1="405.8161340165734" y1="328.6" x2="405.8161340165734" y2="332.1" stroke="#000" stroke-width="1.4" />
<line x1="408.7082353286159" y1="328.6" x2="408.7082353286159" y2="332.1" stroke="#000" stroke-width="1.4" />
<line x1="411.21348743805197" y1="328.6" x2="411.21348743805197" y2="332.1" stroke="#000" stroke-width="1.4" />
<line x1="413.42327640777887" y1="328.6" x2="413.42327640777887" y2="332.1" stroke="#000" stroke-width="1.4" />
<line x1="428.404495812684" y1="328.6" x2="428.404495812684" y2="332.1" stroke="#000" stroke-width="1.4" />
<line x1="436.01163820388945" y1="328.6" x2="436.01163820388945" y2="332.1" stroke="#000" stroke-width="1.4" />
<line x1="441.408991625368" y1="328.6" x2="441.408991625368" y2="332.1" stroke="#000" stroke-width="1.4" />
<line x1="445.595504187316" y1="328.6" x2="445.595504187316" y2="332.1" stroke="#000" stroke-width="1.4" />
<line x1="449.0161340165734" y1="328.6" x2="449.0161340165734" y2="332.1" stroke="#000" stroke-width="1.4" />
<line x1="451.9082353286159" y1="328.6" x2="451.9082353286159" y2="332.1" stroke="#000" stroke-width="1.4" />
<line x1="454.41348743805196" y1="328.6" x2="454.41348743805196" y2="332.1" stroke="#000" stroke-width="1.4" />
<line x1="456.62327640777886" y1="328.6" x2="456.62327640777886" y2="332.1" stroke="#000" stroke-width="1.4" />
<line x1="471.60449581268404" y1="328.6" x2="471.60449581268404" y2="332.1" stroke="#000" stroke-width="1.4" />
<line x1="479.21163820388944" y1="328.6" x2="479.21163820388944" y2="332.1" stroke="#000" stroke-width="1.4" />
<line x1="484.608991625368" y1="328.6" x2="484.608991625368" y2="332.1" stroke="#000" stroke-width="1.4" />
<line x1="488.79550418731606" y1="328.6" x2="488.79550418731606" y2="332.1" stroke="#000" stroke-width="1.4" />
<line x1="492.2161340165734" y1="328.6" x2="492.2161340165734" y2="332.1" stroke="#000" stroke-width="1.4" />
<line x1="495.10823532861593" y1="328.6" x2="495.10823532861593" y2="332.1" stroke="#000" stroke-width="1.4" />
<line x1="497.61348743805195" y1="328.6" x2="497.61348743805195" y2="332.1" stroke="#000" stroke-width="1.4" />
<line x1="499.82327640777885" y1="328.6" x2="499.82327640777885" y2="332.1" stroke="#000" stroke-width="1.4" />
<line x1="514.804495812684" y1="328.6" x2="514.804495812684" y2="332.1" stroke="#000" stroke-width="1.4" />
<line x1="522.4116382038894" y1="328.6" x2="522.4116382038894" y2="332.1" stroke="#000" stroke-width="1.4" />
<line x1="527.808991625368" y1="328.6" x2="527.808991625368" y2="332.1" stroke="#000" stroke-width="1.4" />
<line x1="531.995504187316" y1="328.6" x2="531.995504187316" y2="332.1" stroke="#000" stroke-width="1.4" />
<line x1="535.4161340165734" y1="328.6" x2="535.4161340165734" y2="332.1" stroke="#000" stroke-width="1.4" />
<line x1="538.3082353286159" y1="328.6" x2="538.3082353286159" y2="332.1" stroke="#000" stroke-width="1.4" />
<line x1="540.813487438052" y1="328.6" x2="540.813487438052" y2="332.1" stroke="#000" stroke-width="1.4" />
<line x1="543.0232764077789" y1="328.6" x2="543.0232764077789" y2="332.1" stroke="#000" stroke-width="1.4" />
<line x1="558.004495812684" y1="328.6" x2="558.004495812684" y2="332.1" stroke="#000" stroke-width="1.4" />
<text x="338.3" y="305.7" font-size="12.95" font-family="Liberation Sans, sans-serif" font-weight="bold" fill="#000" stroke="#000" stroke-width="0.5" text-anchor="start" >44:L/A</text>
<rect x="431.7" y="307.6" width="9.0" height="7.8" fill="#000"/>
<text x="446.6" y="315.7" font-size="11.5" font-family="Liberation Sans, sans-serif" font-weight="bold" fill="#000" stroke="#000" stroke-width="0.5" text-anchor="start" >siSCR</text>
<polygon points="497.0,314.8 505.0,314.8 501,308.2" fill="#f8d400" stroke="#000" stroke-width="1.3" stroke-linejoin="miter"/>
<text x="511.2" y="315.7" font-size="11.4" font-family="Liberation Sans, sans-serif" font-weight="bold" fill="#000" stroke="#000" stroke-width="0.5" text-anchor="start" >siWNT4</text>
<text x="0" y="0" font-size="11.4" font-family="Liberation Sans, sans-serif" font-weight="bold" fill="#000" stroke="#000" stroke-width="0.5" text-anchor="middle" transform="translate(285.4,110.2) rotate(-90)">Blank corr. Fluor.</text>
<text x="0" y="0" font-size="11.4" font-family="Liberation Sans, sans-serif" font-weight="bold" fill="#000" stroke="#000" stroke-width="0.5" text-anchor="middle" transform="translate(285.4,261.1) rotate(-90)">Blank corr. Fluor.</text>
<text x="316.2" y="346.1" font-size="10.6" font-family="Liberation Sans, sans-serif" font-weight="bold" stroke="#000" stroke-width="0.5">10<tspan font-size="6.3" dy="-3.4" stroke-width="0.25">-12</tspan></text>
<text x="359.4" y="346.1" font-size="10.6" font-family="Liberation Sans, sans-serif" font-weight="bold" stroke="#000" stroke-width="0.5">10<tspan font-size="6.3" dy="-3.4" stroke-width="0.25">-11</tspan></text>
<text x="402.59999999999997" y="346.1" font-size="10.6" font-family="Liberation Sans, sans-serif" font-weight="bold" stroke="#000" stroke-width="0.5">10<tspan font-size="6.3" dy="-3.4" stroke-width="0.25">-10</tspan></text>
<text x="445.8" y="346.1" font-size="10.6" font-family="Liberation Sans, sans-serif" font-weight="bold" stroke="#000" stroke-width="0.5">10<tspan font-size="6.3" dy="-3.4" stroke-width="0.25">-9</tspan></text>
<text x="489.0" y="346.1" font-size="10.6" font-family="Liberation Sans, sans-serif" font-weight="bold" stroke="#000" stroke-width="0.5">10<tspan font-size="6.3" dy="-3.4" stroke-width="0.25">-8</tspan></text>
<text x="532.2" y="346.1" font-size="10.6" font-family="Liberation Sans, sans-serif" font-weight="bold" stroke="#000" stroke-width="0.5">10<tspan font-size="6.3" dy="-3.4" stroke-width="0.25">-7</tspan></text>
<text x="440.7" y="363.2" font-size="11.7" font-family="Liberation Sans, sans-serif" font-weight="bold" fill="#000" stroke="#000" stroke-width="0.5" text-anchor="middle" >[ICI 182,780], M</text>
<line x1="328.9" y1="52.7" x2="328.9" y2="65.4" stroke="#000" stroke-width="1.3" />
<line x1="324.59999999999997" y1="52.7" x2="333.2" y2="52.7" stroke="#000" stroke-width="1.3" />
<line x1="324.59999999999997" y1="65.4" x2="333.2" y2="65.4" stroke="#000" stroke-width="1.3" />
<rect x="324.4" y="55.4" width="9" height="8.2" fill="#000"/>
<rect x="367.4" y="64.5" width="9" height="8.2" fill="#000"/>
<rect x="410.6" y="60.300000000000004" width="9" height="8.2" fill="#000"/>
<line x1="458.3" y1="63.9" x2="458.3" y2="77.8" stroke="#000" stroke-width="1.3" />
<line x1="454.0" y1="63.9" x2="462.6" y2="63.9" stroke="#000" stroke-width="1.3" />
<line x1="454.0" y1="77.8" x2="462.6" y2="77.8" stroke="#000" stroke-width="1.3" />
<rect x="453.8" y="66.9" width="9" height="8.2" fill="#000"/>
<rect x="497.3" y="61.49999999999999" width="9" height="8.2" fill="#000"/>
<line x1="545" y1="69.3" x2="545" y2="85.7" stroke="#000" stroke-width="1.3" />
<line x1="540.7" y1="69.3" x2="549.3" y2="69.3" stroke="#000" stroke-width="1.3" />
<line x1="540.7" y1="85.7" x2="549.3" y2="85.7" stroke="#000" stroke-width="1.3" />
<rect x="540.5" y="73.30000000000001" width="9" height="8.2" fill="#000"/>
<polygon points="324.59999999999997,115.8 333.2,115.8 328.9,108.2" fill="#f8d400" stroke="#000" stroke-width="1.4" stroke-linejoin="miter"/>
<line x1="371.9" y1="109.1" x2="371.9" y2="116" stroke="#000" stroke-width="1.3" />
<line x1="367.59999999999997" y1="109.1" x2="376.2" y2="109.1" stroke="#000" stroke-width="1.3" />
<line x1="367.59999999999997" y1="116" x2="376.2" y2="116" stroke="#000" stroke-width="1.3" />
<polygon points="367.59999999999997,117.0 376.2,117.0 371.9,109.4" fill="#f8d400" stroke="#000" stroke-width="1.4" stroke-linejoin="miter"/>
<line x1="415.1" y1="103" x2="415.1" y2="117.1" stroke="#000" stroke-width="1.3" />
<line x1="410.8" y1="103" x2="419.40000000000003" y2="103" stroke="#000" stroke-width="1.3" />
<line x1="410.8" y1="117.1" x2="419.40000000000003" y2="117.1" stroke="#000" stroke-width="1.3" />
<polygon points="410.8,114.6 419.40000000000003,114.6 415.1,107.0" fill="#f8d400" stroke="#000" stroke-width="1.4" stroke-linejoin="miter"/>
<line x1="458.3" y1="112.8" x2="458.3" y2="120" stroke="#000" stroke-width="1.3" />
<line x1="454.0" y1="112.8" x2="462.6" y2="112.8" stroke="#000" stroke-width="1.3" />
<line x1="454.0" y1="120" x2="462.6" y2="120" stroke="#000" stroke-width="1.3" />
<polygon points="454.0,121.39999999999999 462.6,121.39999999999999 458.3,113.8" fill="#f8d400" stroke="#000" stroke-width="1.4" stroke-linejoin="miter"/>
<polygon points="497.5,117.5 506.1,117.5 501.8,109.9" fill="#f8d400" stroke="#000" stroke-width="1.4" stroke-linejoin="miter"/>
<polygon points="540.7,120.2 549.3,120.2 545,112.60000000000001" fill="#f8d400" stroke="#000" stroke-width="1.4" stroke-linejoin="miter"/>
<path d="M328.00,228.66 L330.75,228.66 L333.49,228.67 L336.24,228.68 L338.99,228.69 L341.73,228.71 L344.48,228.72 L347.23,228.74 L349.97,228.76 L352.72,228.78 L355.47,228.81 L358.22,228.84 L360.96,228.87 L363.71,228.91 L366.46,228.96 L369.20,229.01 L371.95,229.08 L374.70,229.15 L377.44,229.23 L380.19,229.32 L382.94,229.43 L385.68,229.55 L388.43,229.69 L391.18,229.85 L393.92,230.03 L396.67,230.24 L399.42,230.47 L402.16,230.73 L404.91,231.03 L407.66,231.36 L410.41,231.72 L413.15,232.13 L415.90,232.59 L418.65,233.08 L421.39,233.62 L424.14,234.21 L426.89,234.84 L429.63,235.51 L432.38,236.22 L435.13,236.96 L437.87,237.73 L440.62,238.53 L443.37,239.33 L446.11,240.14 L448.86,240.94 L451.61,241.74 L454.35,242.51 L457.10,243.26 L459.85,243.97 L462.59,244.64 L465.34,245.28 L468.09,245.87 L470.84,246.41 L473.58,246.91 L476.33,247.37 L479.08,247.78 L481.82,248.15 L484.57,248.49 L487.32,248.79 L490.06,249.05 L492.81,249.29 L495.56,249.49 L498.30,249.68 L501.05,249.84 L503.80,249.98 L506.54,250.10 L509.29,250.21 L512.04,250.30 L514.78,250.39 L517.53,250.46 L520.28,250.52 L523.03,250.58 L525.77,250.62 L528.52,250.66 L531.27,250.70 L534.01,250.73 L536.76,250.76 L539.51,250.78 L542.25,250.80 L545.00,250.82" fill="none" stroke="#000" stroke-width="1.3"/>
<path d="M328.00,229.10 L330.75,229.14 L333.49,229.18 L336.24,229.22 L338.99,229.27 L341.73,229.33 L344.48,229.40 L347.23,229.48 L349.97,229.57 L352.72,229.67 L355.47,229.79 L358.22,229.93 L360.96,230.09 L363.71,230.27 L366.46,230.48 L369.20,230.72 L371.95,230.99 L374.70,231.30 L377.44,231.66 L380.19,232.07 L382.94,232.53 L385.68,233.05 L388.43,233.64 L391.18,234.30 L393.92,235.04 L396.67,235.87 L399.42,236.79 L402.16,237.81 L404.91,238.92 L407.66,240.14 L410.41,241.46 L413.15,242.88 L415.90,244.39 L418.65,245.99 L421.39,247.67 L424.14,249.41 L426.89,251.20 L429.63,253.02 L432.38,254.85 L435.13,256.67 L437.87,258.46 L440.62,260.21 L443.37,261.90 L446.11,263.51 L448.86,265.04 L451.61,266.48 L454.35,267.81 L457.10,269.05 L459.85,270.18 L462.59,271.21 L465.34,272.15 L468.09,272.99 L470.84,273.75 L473.58,274.42 L476.33,275.02 L479.08,275.55 L481.82,276.02 L484.57,276.44 L487.32,276.80 L490.06,277.12 L492.81,277.40 L495.56,277.65 L498.30,277.86 L501.05,278.05 L503.80,278.21 L506.54,278.35 L509.29,278.47 L512.04,278.58 L514.78,278.67 L517.53,278.75 L520.28,278.82 L523.03,278.88 L525.77,278.93 L528.52,278.98 L531.27,279.02 L534.01,279.05 L536.76,279.08 L539.51,279.11 L542.25,279.13 L545.00,279.15" fill="none" stroke="#fcd600" stroke-width="1.3"/>
<line x1="328.9" y1="191.8" x2="328.9" y2="257.5" stroke="#000" stroke-width="1.3" />
<line x1="324.59999999999997" y1="191.8" x2="333.2" y2="191.8" stroke="#000" stroke-width="1.3" />
<line x1="324.59999999999997" y1="257.5" x2="333.2" y2="257.5" stroke="#000" stroke-width="1.3" />
<line x1="371.9" y1="213.1" x2="371.9" y2="250.9" stroke="#000" stroke-width="1.3" />
<line x1="367.59999999999997" y1="213.1" x2="376.2" y2="213.1" stroke="#000" stroke-width="1.3" />
<line x1="367.59999999999997" y1="250.9" x2="376.2" y2="250.9" stroke="#000" stroke-width="1.3" />
<line x1="415.1" y1="201.6" x2="415.1" y2="256.5" stroke="#000" stroke-width="1.3" />
<line x1="410.8" y1="201.6" x2="419.40000000000003" y2="201.6" stroke="#000" stroke-width="1.3" />
<line x1="410.8" y1="256.5" x2="419.40000000000003" y2="256.5" stroke="#000" stroke-width="1.3" />
<line x1="458.3" y1="237" x2="458.3" y2="260.2" stroke="#000" stroke-width="1.3" />
<line x1="454.0" y1="237" x2="462.6" y2="237" stroke="#000" stroke-width="1.3" />
<line x1="454.0" y1="260.2" x2="462.6" y2="260.2" stroke="#000" stroke-width="1.3" />
<line x1="501.8" y1="225.5" x2="501.8" y2="260.2" stroke="#000" stroke-width="1.3" />
<line x1="497.5" y1="225.5" x2="506.1" y2="225.5" stroke="#000" stroke-width="1.3" />
<line x1="497.5" y1="260.2" x2="506.1" y2="260.2" stroke="#000" stroke-width="1.3" />
<line x1="545" y1="239.4" x2="545" y2="271.4" stroke="#000" stroke-width="1.3" />
<line x1="540.7" y1="239.4" x2="549.3" y2="239.4" stroke="#000" stroke-width="1.3" />
<line x1="540.7" y1="271.4" x2="549.3" y2="271.4" stroke="#000" stroke-width="1.3" />
<rect x="324.4" y="209.70000000000002" width="9" height="8.2" fill="#000"/>
<rect x="367.4" y="228.0" width="9" height="8.2" fill="#000"/>
<rect x="410.6" y="224.8" width="9" height="8.2" fill="#000"/>
<rect x="453.8" y="243.4" width="9" height="8.2" fill="#000"/>
<rect x="497.3" y="239.0" width="9" height="8.2" fill="#000"/>
<rect x="540.5" y="251.3" width="9" height="8.2" fill="#000"/>
<polygon points="324.59999999999997,241.3 333.2,241.3 328.9,233.7" fill="#f8d400" stroke="#000" stroke-width="1.4" stroke-linejoin="miter"/>
<polygon points="367.59999999999997,235.3 376.2,235.3 371.9,227.7" fill="#f8d400" stroke="#000" stroke-width="1.4" stroke-linejoin="miter"/>
<line x1="415.1" y1="236.5" x2="415.1" y2="249" stroke="#000" stroke-width="1.3" />
<line x1="410.8" y1="236.5" x2="419.40000000000003" y2="236.5" stroke="#000" stroke-width="1.3" />
<line x1="410.8" y1="249" x2="419.40000000000003" y2="249" stroke="#000" stroke-width="1.3" />
<polygon points="410.8,246.9 419.40000000000003,246.9 415.1,239.29999999999998" fill="#f8d400" stroke="#000" stroke-width="1.4" stroke-linejoin="miter"/>
<line x1="458.3" y1="268.2" x2="458.3" y2="281.7" stroke="#000" stroke-width="1.3" />
<line x1="454.0" y1="268.2" x2="462.6" y2="268.2" stroke="#000" stroke-width="1.3" />
<line x1="454.0" y1="281.7" x2="462.6" y2="281.7" stroke="#000" stroke-width="1.3" />
<polygon points="454.0,278.90000000000003 462.6,278.90000000000003 458.3,271.3" fill="#f8d400" stroke="#000" stroke-width="1.4" stroke-linejoin="miter"/>
<polygon points="497.5,275.7 506.1,275.7 501.8,268.09999999999997" fill="#f8d400" stroke="#000" stroke-width="1.4" stroke-linejoin="miter"/>
<polygon points="540.7,288.0 549.3,288.0 545,280.4" fill="#f8d400" stroke="#000" stroke-width="1.4" stroke-linejoin="miter"/>
<polyline points="553.4,250.4 558.6,250.4 558.6,280.2 553.4,280.2" fill="none" stroke="#dc2a1c" stroke-width="1.4"/>
<text x="564.6" y="274.2" font-size="17.5" font-family="Liberation Sans, sans-serif" font-weight="bold" fill="#dc2a1c" stroke="#dc2a1c" stroke-width="0.5" text-anchor="middle" >*</text>
</svg>
</body></html>
